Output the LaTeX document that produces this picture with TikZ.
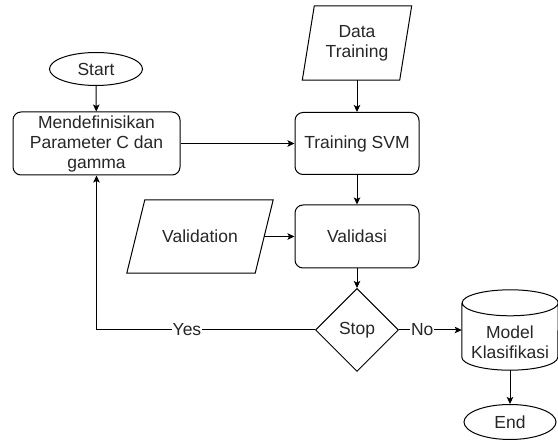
\documentclass[tikz,border=0pt]{standalone}
\usepackage{fontspec}
\setmainfont{Liberation Sans}
\usetikzlibrary{arrows.meta,shapes.geometric}
\begin{document}
\begin{tikzpicture}[x=1pt,y=-1pt,
  every node/.style={font=\fontsize{17.5}{20}\selectfont, text=black!85, inner sep=0pt, align=center},
  box/.style={draw, rounded corners=8pt, line width=1pt},
  term/.style={draw, ellipse, line width=1pt},
  plain/.style={draw=none},
  dia/.style={draw, diamond, line width=1pt},
  arr/.style={-{Stealth[length=7pt,width=6.5pt,inset=1.5pt]}, line width=1pt},
  ln/.style={line width=1pt},
  lbl/.style={fill=white, inner sep=1pt}
]
\useasboundingbox (0,0) rectangle (558,446);

% terminals
\node[term, minimum width=93pt, minimum height=33pt] (start) at (96,69) {Start};
\node[term, minimum width=92pt, minimum height=35pt] (end) at (510,422) {End};

% process boxes
\node[box, minimum width=167pt, minimum height=63pt] (def) at (96.5,143.5) {Mendefinisikan\\Parameter C dan\\gamma};
\node[box, minimum width=124pt, minimum height=62pt] (svm) at (357,143.5) {Training SVM};
\node[box, minimum width=124pt, minimum height=63pt] (vld) at (357,236.5) {Validasi};

% data (parallelograms)
\node[plain, minimum width=109pt, minimum height=74pt] (dt) at (357,43) {Data\\Training};
\draw[ln] ([xshift=12pt]dt.north west) -- (dt.north east) -- ([xshift=-12pt]dt.south east) -- (dt.south west) -- cycle;
\node[plain, minimum width=146pt, minimum height=73pt] (val) at (200,236.5) {Validation};
\draw[ln] ([xshift=18pt]val.north west) -- (val.north east) -- ([xshift=-18pt]val.south east) -- (val.south west) -- cycle;

% decision
\node[dia, minimum width=83pt, minimum height=83pt] (stop) at (357,330) {Stop};

% database cylinder
\node[plain, minimum width=96pt, minimum height=80pt] (model) at (510,330) {};
\draw[ln] ([yshift=-13pt]model.north west) -- ([yshift=13pt]model.south west)
  arc[start angle=180,end angle=360,x radius=48pt,y radius=13pt]
  -- ([yshift=-13pt]model.north east)
  arc[start angle=0,end angle=180,x radius=48pt,y radius=13pt]
  arc[start angle=180,end angle=360,x radius=48pt,y radius=13pt];
\node (modeltext) at (510,342) {Model\\Klasifikasi};

% connectors
\draw[arr] (start) -- (def);
\draw[arr] (def.east) -- (svm.west);
\draw[arr] (dt.south) -- (svm.north);
\draw[arr] (svm) -- (vld);
\draw[arr] ([xshift=-9pt]val.east) -- (vld.west);
\draw[arr] (vld) -- (stop);
\coordinate (corner) at (stop.west -| def.south);
\draw[arr] (stop.west) -- node[lbl, pos=0.586] {Yes} (corner) -- (def.south);
\draw[arr] (stop.east) -- node[lbl, pos=0.37] {No} (model.west);
\draw[arr] (model.south) -- (end.north);
\end{tikzpicture}
\end{document}
